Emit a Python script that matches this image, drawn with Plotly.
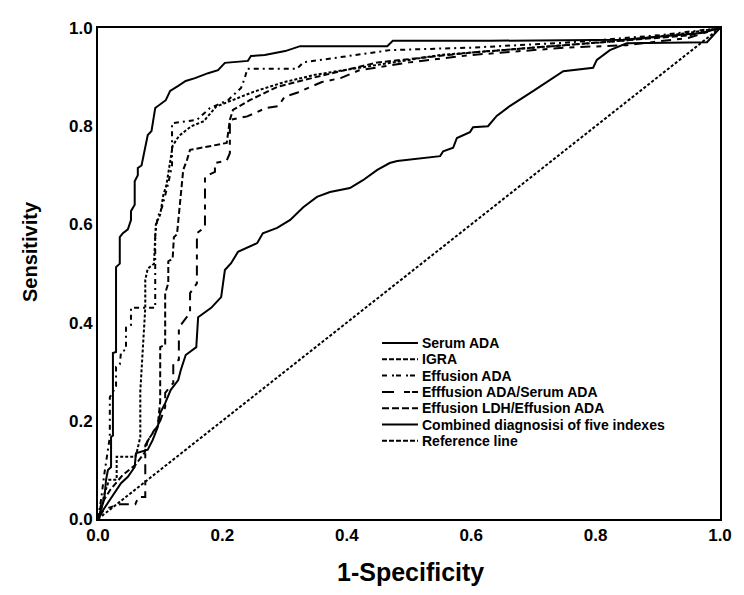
import plotly.graph_objects as go

# ROC curves: (1-Specificity, Sensitivity) pairs
serum_ada = [(0, 0), (0.005, 0.012), (0.016, 0.033), (0.027, 0.053), (0.037, 0.073), (0.048, 0.086),
             (0.059, 0.106), (0.061, 0.134), (0.080, 0.141), (0.088, 0.161), (0.096, 0.187), (0.100, 0.216),
             (0.108, 0.236), (0.117, 0.263), (0.129, 0.283), (0.133, 0.303), (0.141, 0.334), (0.158, 0.350),
             (0.161, 0.411), (0.182, 0.430), (0.198, 0.452), (0.204, 0.507), (0.214, 0.521), (0.225, 0.544),
             (0.241, 0.554), (0.256, 0.562), (0.265, 0.582), (0.288, 0.593), (0.309, 0.609), (0.330, 0.635),
             (0.352, 0.656), (0.373, 0.666), (0.405, 0.674), (0.426, 0.690), (0.449, 0.711), (0.469, 0.725),
             (0.481, 0.729), (0.550, 0.739), (0.555, 0.749), (0.571, 0.756), (0.577, 0.776), (0.598, 0.788),
             (0.603, 0.798), (0.627, 0.800), (0.641, 0.821), (0.662, 0.841), (0.700, 0.872), (0.748, 0.912),
             (0.796, 0.919), (0.802, 0.935), (0.823, 0.955), (0.850, 0.969), (0.979, 0.971), (1.0, 1.0)]

igra = [(0, 0), (0.005, 0.02), (0.01, 0.05), (0.018, 0.08), (0.03, 0.08), (0.03, 0.127), (0.06, 0.127),
        (0.062, 0.134), (0.068, 0.167), (0.068, 0.26), (0.072, 0.345), (0.076, 0.43), (0.076, 0.487),
        (0.08, 0.51), (0.09, 0.52), (0.093, 0.6), (0.1, 0.62), (0.105, 0.66), (0.11, 0.68), (0.115, 0.72),
        (0.12, 0.76), (0.13, 0.78), (0.15, 0.8), (0.17, 0.81), (0.19, 0.84), (0.21, 0.85), (0.25, 0.87),
        (0.3, 0.89), (0.35, 0.905), (0.45, 0.925), (0.55, 0.945), (0.7, 0.96), (0.85, 0.975), (0.95, 0.99),
        (1.0, 1.0)]

effusion_ada = [(0, 0), (0.005, 0.04), (0.01, 0.09), (0.015, 0.13), (0.019, 0.167), (0.019, 0.248),
                (0.024, 0.26), (0.029, 0.27), (0.029, 0.31), (0.035, 0.315), (0.037, 0.34), (0.045, 0.345),
                (0.045, 0.39), (0.053, 0.395), (0.053, 0.43), (0.092, 0.43), (0.092, 0.58), (0.096, 0.615),
                (0.103, 0.635), (0.113, 0.684), (0.119, 0.72), (0.119, 0.806), (0.159, 0.813), (0.18, 0.837),
                (0.209, 0.853), (0.23, 0.878), (0.236, 0.898), (0.24, 0.917), (0.32, 0.917), (0.33, 0.93),
                (0.47, 0.955), (0.6, 0.96), (0.75, 0.97), (0.9, 0.985), (1.0, 1.0)]

ada_ratio = [(0, 0), (0.01, 0.02), (0.035, 0.03), (0.06, 0.03), (0.065, 0.045), (0.076, 0.045),
             (0.076, 0.15), (0.085, 0.17), (0.1, 0.2), (0.108, 0.228), (0.108, 0.257), (0.121, 0.277),
             (0.121, 0.318), (0.13, 0.324), (0.13, 0.39), (0.148, 0.42), (0.148, 0.46), (0.159, 0.48),
             (0.159, 0.582), (0.172, 0.595), (0.172, 0.697), (0.188, 0.707), (0.188, 0.725), (0.207, 0.73),
             (0.212, 0.745), (0.212, 0.813), (0.24, 0.82), (0.27, 0.837), (0.29, 0.841), (0.30, 0.86),
             (0.32, 0.868), (0.36, 0.89), (0.39, 0.898), (0.42, 0.914), (0.5, 0.93), (0.6, 0.945),
             (0.75, 0.96), (0.85, 0.965), (0.95, 0.98), (1.0, 1.0)]

ldh_ada = [(0, 0), (0.005, 0.03), (0.02, 0.06), (0.04, 0.09), (0.06, 0.11), (0.075, 0.135), (0.08, 0.16),
           (0.09, 0.18), (0.096, 0.19), (0.1, 0.24), (0.1, 0.35), (0.108, 0.355), (0.108, 0.46),
           (0.113, 0.48), (0.113, 0.525), (0.12, 0.53), (0.122, 0.574), (0.127, 0.58), (0.137, 0.711),
           (0.143, 0.731), (0.148, 0.752), (0.175, 0.758), (0.207, 0.766), (0.212, 0.813), (0.217, 0.833),
           (0.244, 0.853), (0.288, 0.88), (0.35, 0.9), (0.45, 0.93), (0.6, 0.95), (0.8, 0.97),
           (0.95, 0.985), (1.0, 1.0)]

combined = [(0, 0), (0.005, 0.02), (0.01, 0.04), (0.013, 0.08), (0.016, 0.10), (0.021, 0.106),
            (0.021, 0.167), (0.024, 0.17), (0.024, 0.338), (0.029, 0.34), (0.029, 0.513), (0.035, 0.52),
            (0.035, 0.574), (0.040, 0.582), (0.048, 0.59), (0.053, 0.609), (0.053, 0.627), (0.059, 0.640),
            (0.059, 0.688), (0.064, 0.70), (0.064, 0.715), (0.070, 0.72), (0.076, 0.762), (0.080, 0.782),
            (0.086, 0.79), (0.092, 0.837), (0.109, 0.853), (0.116, 0.872), (0.129, 0.882), (0.141, 0.892),
            (0.156, 0.898), (0.177, 0.908), (0.193, 0.914), (0.204, 0.929), (0.241, 0.933), (0.246, 0.943),
            (0.268, 0.945), (0.301, 0.953), (0.325, 0.963), (0.465, 0.963), (0.474, 0.974), (0.63, 0.974),
            (0.844, 0.976), (0.97, 0.99), (1.0, 1.0)]

reference = [(0, 0), (1.0, 1.0)]

series_names = ["Serum ADA", "IGRA", "Effusion ADA", "Efffusion ADA/Serum ADA",
                "Effusion LDH/Effusion ADA", "Combined diagnosisi of five indexes", "Reference line"]
series_data = [serum_ada, igra, effusion_ada, ada_ratio, ldh_ada, combined, reference]

tick_vals = [0.0, 0.2, 0.4, 0.6, 0.8, 1.0]
tick_text = ["0.0", "0.2", "0.4", "0.6", "0.8", "1.0"]

# styles
dashes = ["solid", "3px,2px", "5px,4px,2px,4px", "10px,6px,5px,6px", "6px,3px", "solid", "3px,2px"]
legend_dashes = ["solid", "5px,2px", "5px,5px,2px,2px", "12px,10px,6px,2px", "7px,3px", "solid", "5px,2px"]

FONT = "Liberation Sans, Arial, sans-serif"
OFF = 8  # page body margin of the html page
W, H = 744 - OFF, 595 - OFF
L, T = 98 - OFF, 28 - OFF
R, B = 24, 76
PW, PH = W - L - R, H - T - B


def px(x):  # page pixel -> paper x
    return (x - OFF - L) / PW


def py(y):  # page pixel -> paper y
    return (T + PH - (y - OFF)) / PH


fig = go.Figure()
for name, data, dash in zip(series_names, series_data, dashes):
    fig.add_trace(go.Scatter(
        x=[p[0] for p in data], y=[p[1] for p in data], mode="lines", name=name,
        line=dict(color="black", width=2, dash=dash), showlegend=False))

# manual legend (tight row spacing like the original)
rows_y = [343, 359.3, 375.6, 391.9, 408.2, 424.5, 440.8]
shapes = []
annotations = []
for name, dash, ry in zip(series_names, legend_dashes, rows_y):
    shapes.append(dict(type="line", xref="paper", yref="paper", x0=px(382), x1=px(418),
                       y0=py(ry), y1=py(ry), line=dict(color="black", width=2, dash=dash)))
    annotations.append(dict(text=name, xref="paper", yref="paper", x=px(420), y=py(ry),
                            xanchor="left", yanchor="middle", showarrow=False,
                            font=dict(family=FONT, size=14, color="black", weight="bold")))

annotations.append(dict(text="1-Specificity", xref="paper", yref="paper", x=px(410), y=py(572),
                        xanchor="center", yanchor="middle", showarrow=False,
                        font=dict(family=FONT, size=25, color="black", weight="bold")))
annotations.append(dict(text="Sensitivity", xref="paper", yref="paper", x=px(30), y=py(252),
                        xanchor="center", yanchor="middle", showarrow=False, textangle=-90,
                        font=dict(family=FONT, size=20, color="black", weight="bold")))

axis_common = dict(range=[0, 1], showgrid=False, zeroline=False, showline=True, mirror=True,
                   linecolor="black", linewidth=2, ticks="", tickvals=tick_vals, ticktext=tick_text,
                   tickfont=dict(family=FONT, size=17, color="black", weight="bold"))

fig.update_layout(
    width=W, height=H, margin=dict(l=L, r=R, t=T, b=B),
    paper_bgcolor="white", plot_bgcolor="white",
    xaxis=dict(**axis_common),
    yaxis=dict(**axis_common),
    shapes=shapes, annotations=annotations, showlegend=False,
)

fig.write_html("out.html")
